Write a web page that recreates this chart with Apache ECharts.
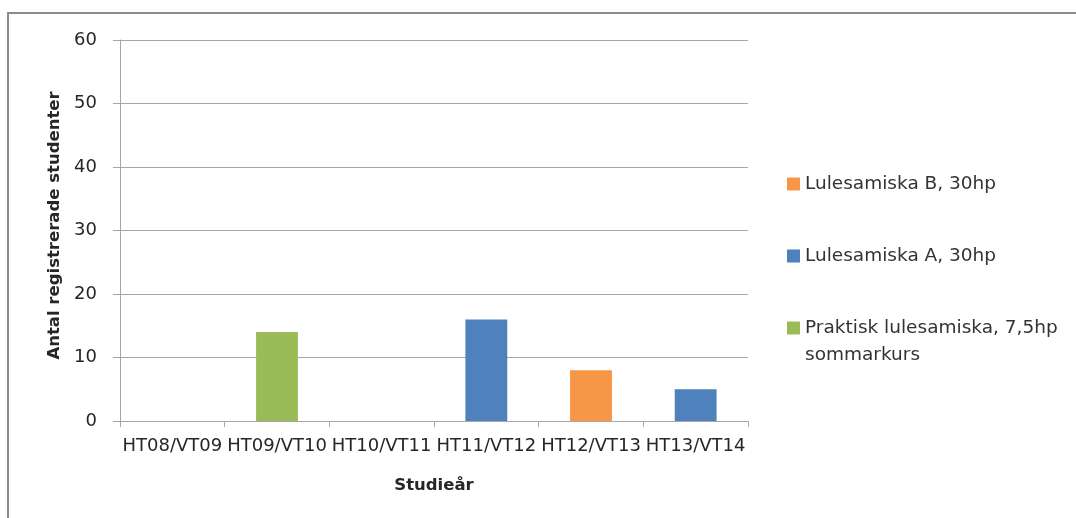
<!DOCTYPE html>
<html>
<head>
<meta charset="utf-8">
<script src="https://cdn.jsdelivr.net/npm/echarts@6/dist/echarts.min.js"></script>
<style>
  html, body { margin: 0; padding: 0; background: #fff; }
  #chart { width: 1076px; height: 518px; }
</style>
</head>
<body>
<div id="chart"></div>
<script>
// Registered students per study year, by course
const categories = ['HT08/VT09', 'HT09/VT10', 'HT10/VT11', 'HT11/VT12', 'HT12/VT13', 'HT13/VT14'];
const praktisk   = [0, 14, 0, 0, 0, 0];
const lulesamA   = [0, 0, 0, 16, 0, 5];
const lulesamB   = [0, 0, 0, 0, 8, 0];
const yTicks = { min: 0, max: 60, interval: 10 };

const seriesNames = {
  praktisk: 'Praktisk lulesamiska, 7,5hp\nsommarkurs',
  a: 'Lulesamiska A, 30hp',
  b: 'Lulesamiska B, 30hp'
};

const FONT = '"DejaVu Sans", sans-serif';
const TEXT = '#262626';
const GRID = '#a6a6a6';

const chart = echarts.init(document.getElementById('chart'), null, { renderer: 'canvas' });

function bar(name, data, color) {
  return {
    name, type: 'bar', stack: 'total', data,
    barWidth: '40%',
    itemStyle: { color },
    emphasis: { disabled: true }
  };
}

chart.setOption({
  animation: false,
  backgroundColor: '#fff',
  graphic: [{
    type: 'rect', z: -1, silent: true,
    shape: { x: 8, y: 13, width: 1200, height: 600 },
    style: { fill: 'none', stroke: '#8c8c8c', lineWidth: 2 }
  }],
  grid: { left: 120, right: 328, top: 40, bottom: 97, containLabel: false },
  legend: {
    orient: 'vertical',
    left: 787, top: 143.5,
    padding: 0,
    itemWidth: 13, itemHeight: 13, itemGap: -9,
    icon: 'rect',
    selectedMode: false,
    // every entry is three lines tall so the swatch sits on the first text line
    formatter: name => name.indexOf('\n') >= 0 ? '\n' + name : '\n' + name + '\n',
    textStyle: { fontFamily: FONT, fontSize: 18.5, color: '#333', lineHeight: 27 },
    data: [seriesNames.b, seriesNames.a, seriesNames.praktisk]
  },
  xAxis: {
    type: 'category', data: categories, boundaryGap: true,
    name: 'Studieår', nameLocation: 'middle', nameGap: 56,
    nameTextStyle: { fontFamily: FONT, fontSize: 16.5, fontWeight: 'bold', color: TEXT },
    axisLine: { lineStyle: { color: GRID, width: 1 } },
    axisTick: { show: true, length: 6, alignWithLabel: false, lineStyle: { color: GRID } },
    axisLabel: { fontFamily: FONT, fontSize: 18, color: TEXT, margin: 16, interval: 0 }
  },
  yAxis: {
    type: 'value', min: yTicks.min, max: yTicks.max, interval: yTicks.interval,
    name: 'Antal registrerade studenter', nameLocation: 'middle', nameGap: 56,
    nameTextStyle: { fontFamily: FONT, fontSize: 16.5, fontWeight: 'bold', color: TEXT, padding: [0, 0, 0, 10] },
    axisLine: { show: true, lineStyle: { color: GRID, width: 1 } },
    axisTick: { show: true, length: 7, inside: false, lineStyle: { color: GRID } },
    axisLabel: { fontFamily: FONT, fontSize: 18, color: TEXT, margin: 23 },
    splitLine: { show: true, lineStyle: { color: GRID, width: 1 } }
  },
  series: [
    bar(seriesNames.praktisk, praktisk, '#9bbb59'),
    bar(seriesNames.a, lulesamA, '#4f81bd'),
    bar(seriesNames.b, lulesamB, '#f79646')
  ]
});
</script>
</body>
</html>
